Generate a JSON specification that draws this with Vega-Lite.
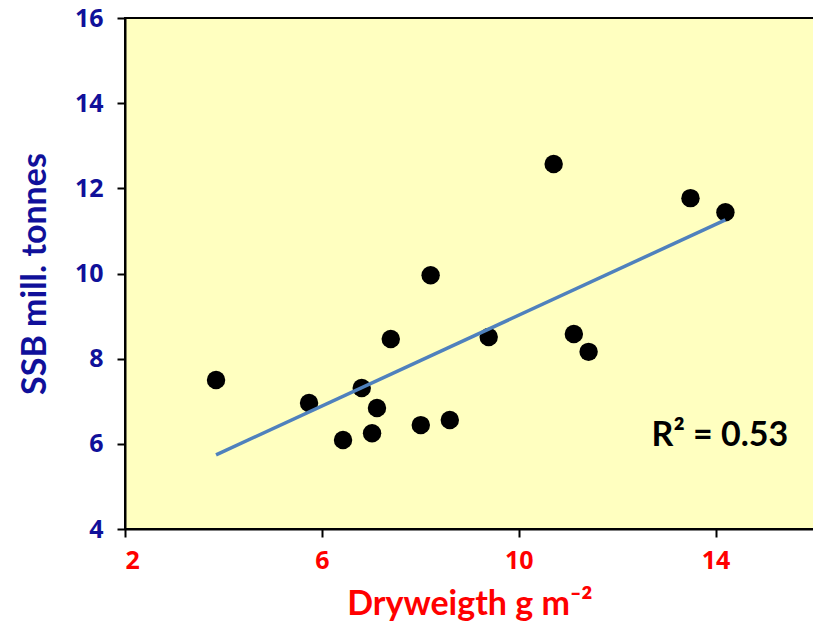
{
  "$schema": "https://vega.github.io/schema/vega-lite/v6.json",
  "width": 689,
  "height": 511,
  "autosize": {"type": "none"},
  "padding": {"left": 125, "top": 18, "right": 0, "bottom": 110},
  "background": "white",
  "config": {
    "view": {"fill": "#FFFFC0", "stroke": "black", "strokeWidth": 2},
    "font": "Lato"
  },
  "data": {
    "values": [
      {"dw": 3.85, "ssb": 7.50},
      {"dw": 5.74, "ssb": 6.96},
      {"dw": 6.43, "ssb": 6.09},
      {"dw": 6.81, "ssb": 7.31},
      {"dw": 7.02, "ssb": 6.25},
      {"dw": 7.12, "ssb": 6.84},
      {"dw": 7.40, "ssb": 8.46},
      {"dw": 8.01, "ssb": 6.44},
      {"dw": 8.21, "ssb": 9.96},
      {"dw": 8.60, "ssb": 6.56},
      {"dw": 9.39, "ssb": 8.51},
      {"dw": 10.71, "ssb": 12.57},
      {"dw": 11.12, "ssb": 8.58},
      {"dw": 11.42, "ssb": 8.16},
      {"dw": 13.49, "ssb": 11.77},
      {"dw": 14.20, "ssb": 11.44}
    ]
  },
  "layer": [
    {
      "mark": {"type": "circle", "size": 340, "color": "black", "opacity": 1},
      "encoding": {
        "x": {
          "field": "dw", "type": "quantitative",
          "scale": {"domain": [2, 16], "nice": false, "zero": false},
          "axis": {
            "values": [2, 6, 10, 14],
            "grid": false,
            "title": "Dryweigth g m⁻²",
            "titleColor": "#FF0000",
            "titleFontSize": 34,
            "titleFontWeight": "bold",
            "titleFont": "Lato",
            "titlePadding": 14,
            "labelColor": "#FF0000",
            "labelFontSize": 25,
            "labelFontWeight": "bold",
            "labelFont": "Open Sans",
            "labelPadding": 11,
            "tickColor": "black",
            "tickSize": 8,
            "tickWidth": 2,
            "domainColor": "black",
            "domainWidth": 2
          }
        },
        "y": {
          "field": "ssb", "type": "quantitative",
          "scale": {"domain": [4, 16], "nice": false, "zero": false},
          "axis": {
            "values": [4, 6, 8, 10, 12, 14, 16],
            "grid": false,
            "title": "SSB mill. tonnes",
            "titleColor": "#10109A",
            "titleFontSize": 34,
            "titleFontWeight": "bold",
            "titleFont": "Lato",
            "titlePadding": 22,
            "labelColor": "#10109A",
            "labelFontSize": 25,
            "labelFontWeight": "bold",
            "labelFont": "Open Sans",
            "labelPadding": 14,
            "tickColor": "black",
            "tickSize": 8,
            "tickWidth": 2,
            "domainColor": "black",
            "domainWidth": 2
          }
        }
      }
    },
    {
      "transform": [{"regression": "ssb", "on": "dw"}],
      "mark": {"type": "line", "color": "#4F81BD", "strokeWidth": 3.5},
      "encoding": {
        "x": {"field": "dw", "type": "quantitative"},
        "y": {"field": "ssb", "type": "quantitative"}
      }
    },
    {
      "data": {"values": [{"tx": 12.7, "ty": 5.95, "label": "R² = 0.53"}]},
      "mark": {"type": "text", "align": "left", "baseline": "alphabetic", "fontSize": 34, "fontWeight": "bold", "font": "Lato", "color": "black"},
      "encoding": {
        "x": {"field": "tx", "type": "quantitative"},
        "y": {"field": "ty", "type": "quantitative"},
        "text": {"field": "label"}
      }
    }
  ]
}
